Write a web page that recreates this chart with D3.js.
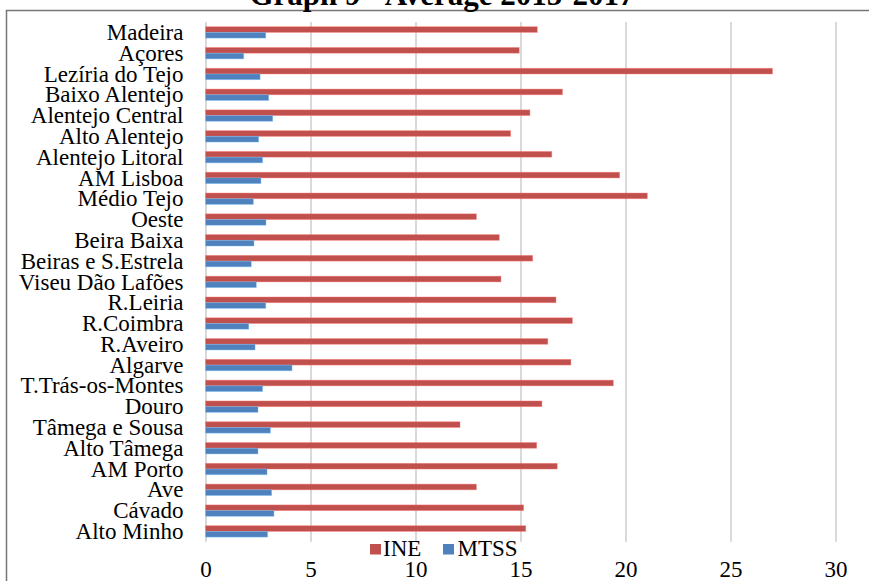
<!DOCTYPE html>
<html>
<head>
<meta charset="utf-8">
<script src="https://cdn.jsdelivr.net/npm/d3@7"></script>
<style>
  html, body { margin: 0; padding: 0; background: #fff; }
  svg { display: block; font-family: "Liberation Serif", "Times New Roman", serif; }
</style>
</head>
<body>
<svg id="chart" width="869" height="581"></svg>
<script>
// Regions, listed top to bottom as shown on the chart
const regions = [
  "Madeira", "Açores", "Lezíria do Tejo", "Baixo Alentejo", "Alentejo Central",
  "Alto Alentejo", "Alentejo Litoral", "AM Lisboa", "Médio Tejo", "Oeste",
  "Beira Baixa", "Beiras e S.Estrela", "Viseu Dão Lafões", "R.Leiria", "R.Coimbra",
  "R.Aveiro", "Algarve", "T.Trás-os-Montes", "Douro", "Tâmega e Sousa",
  "Alto Tâmega", "AM Porto", "Ave", "Cávado", "Alto Minho"
];

// INE averages 2015-2017
const ineValues = [
  15.8, 14.94, 27.0, 17.0, 15.45,
  14.53, 16.49, 19.72, 21.04, 12.9,
  13.99, 15.58, 14.07, 16.69, 17.47,
  16.3, 17.4, 19.42, 16.02, 12.12,
  15.77, 16.75, 12.9, 15.15, 15.25
];

// MTSS averages 2015-2017
const mtssValues = [
  2.87, 1.82, 2.6, 3.01, 3.2,
  2.53, 2.72, 2.64, 2.28, 2.88,
  2.31, 2.18, 2.42, 2.87, 2.06,
  2.36, 4.12, 2.72, 2.5, 3.09,
  2.5, 2.93, 3.15, 3.26, 2.96
];

const seriesNames = ["INE", "MTSS"];
const seriesColors = ["#C0504D", "#4F81BD"];
const xTicks = [0, 5, 10, 15, 20, 25, 30];
const title = "Graph 9 - Average 2015-2017";

const svg = d3.select("#chart");
const W = 869, H = 581;

const plot = { left: 205.5, right: 835.5, top: 22, bottom: 541.8 };

// Outer chart frame (extends past the right and bottom edges)
svg.append("rect")
  .attr("x", 6.5).attr("y", 10.5)
  .attr("width", W + 20).attr("height", H + 20)
  .attr("fill", "#fff")
  .attr("stroke", "#767676")
  .attr("stroke-width", 1.5);

// Title, partly clipped by the top edge
svg.append("text")
  .attr("x", 442).attr("y", 5)
  .attr("text-anchor", "middle")
  .attr("font-weight", "bold")
  .attr("font-size", 31)
  .text(title);

const x = d3.scaleLinear().domain([0, 30]).range([plot.left, plot.right]);
const y = d3.scaleBand().domain(regions).range([plot.top, plot.bottom]).paddingInner(0).paddingOuter(0);

const barH = 5.7;
const inner = d3.scaleBand().domain(seriesNames)
  .range([y.bandwidth() / 2 - barH, y.bandwidth() / 2 + barH]);

// Vertical gridlines and tick labels
const xAxis = d3.axisBottom(x)
  .tickValues(xTicks)
  .tickSize(-(plot.bottom - plot.top))
  .tickPadding(19)
  .tickFormat(d3.format("d"));

const gx = svg.append("g")
  .attr("transform", `translate(0,${plot.bottom})`)
  .call(xAxis);
gx.select(".domain").remove();
gx.selectAll(".tick line").attr("stroke", "#d9d9d9").attr("stroke-width", 2);
gx.selectAll(".tick text")
  .attr("font-family", "\"Liberation Serif\", \"Times New Roman\", serif")
  .attr("font-size", 23)
  .attr("fill", "#000");

// Bars
const rows = regions.map((r, i) => ({ region: r, values: [ineValues[i], mtssValues[i]] }));
const groups = svg.append("g").selectAll("g")
  .data(rows)
  .join("g")
  .attr("transform", d => `translate(0,${y(d.region)})`);

groups.selectAll("rect")
  .data(d => d.values.map((v, k) => ({ key: seriesNames[k], value: v, color: seriesColors[k] })))
  .join("rect")
  .attr("x", x(0))
  .attr("y", d => inner(d.key))
  .attr("width", d => x(d.value) - x(0))
  .attr("height", inner.bandwidth())
  .attr("fill", d => d.color)
  .attr("stroke", d => d3.color(d.color).brighter(1.2))
  .attr("stroke-opacity", 0.5)
  .attr("stroke-width", 0.8);

// Category labels
svg.append("g").selectAll("text")
  .data(regions)
  .join("text")
  .attr("x", 183.5)
  .attr("y", d => y(d) + y.bandwidth() / 2 + 7.6)
  .attr("text-anchor", "end")
  .attr("font-size", 23)
  .attr("fill", "#000")
  .text(d => d);

// Legend
const legendItems = [
  { name: seriesNames[0], color: seriesColors[0], sx: 370, tx: 383 },
  { name: seriesNames[1], color: seriesColors[1], sx: 443, tx: 457.5 }
];
const lg = svg.append("g");
lg.selectAll("rect")
  .data(legendItems)
  .join("rect")
  .attr("x", d => d.sx).attr("y", 544)
  .attr("width", 11).attr("height", 10.5)
  .attr("fill", d => d.color);
lg.selectAll("text")
  .data(legendItems)
  .join("text")
  .attr("x", d => d.tx).attr("y", 556)
  .attr("font-size", 23)
  .attr("fill", "#000")
  .text(d => d.name);
</script>
</body>
</html>
